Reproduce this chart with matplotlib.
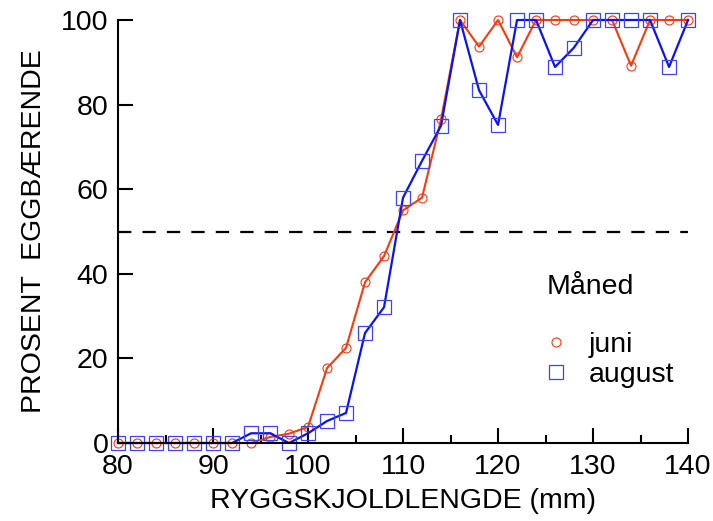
import matplotlib
matplotlib.use("Agg")
from matplotlib import pyplot as plt

plt.rcParams["font.family"] = ["Liberation Sans", "DejaVu Sans"]

length_mm = list(range(80, 141, 2))

pct_juni = [0, 0, 0, 0, 0, 0, 0, 0, 1.4, 2.2, 3.8, 17.7, 22.5, 38, 44.2, 55,
            58, 76.5, 100, 93.7, 100, 91.2, 100, 100, 100, 100, 100, 89.2,
            100, 100, 100]
pct_august = [0, 0, 0, 0, 0, 0, 0, 2.3, 2.3, 0, 2.3, 5.2, 7.1, 26, 32.1, 58,
              66.7, 75, 100, 83.4, 75.2, 100, 100, 88.9, 93.5, 100, 100, 100,
              100, 88.9, 100]

red = "#fa3a0c"
blue = "#0a14f0"
fs = 20.5


def main():
    fig = plt.figure(figsize=(7.13, 5.21), dpi=100)
    ax = fig.add_axes([0.1655, 0.1497, 0.7995, 0.8119])

    ax.axhline(50, color="black", linewidth=1.6, dashes=(6, 5))

    ax.plot(length_mm, pct_juni, color=red, linewidth=1.5, marker="o",
            markersize=6.5, markerfacecolor="none", markeredgecolor=red,
            markeredgewidth=0.8, clip_on=False, label="juni")
    ax.plot(length_mm, pct_august, color=blue, linewidth=1.6, marker="s",
            markersize=9.5, markerfacecolor="none", markeredgecolor="#3a46f5",
            markeredgewidth=0.9, clip_on=False, label="august")

    ax.set_xlim(80, 140)
    ax.set_ylim(0, 100)
    ax.set_xticks(range(80, 141, 10))
    ax.set_xticks(range(85, 140, 10), minor=True)
    ax.set_yticks(range(0, 101, 20))

    for side in ["top", "right"]:
        ax.spines[side].set_visible(False)
    for side in ["left", "bottom"]:
        ax.spines[side].set_linewidth(1.5)

    ax.tick_params(which="major", direction="in", length=11, width=1.5,
                   labelsize=fs)
    ax.tick_params(axis="x", which="major", pad=8)
    ax.tick_params(axis="y", which="major", pad=7)
    ax.tick_params(which="minor", direction="in", length=6, width=1.5)

    ax.set_xlabel("RYGGSKJOLDLENGDE (mm)", fontsize=fs, labelpad=6)
    ax.set_ylabel("PROSENT  EGGBÆRENDE", fontsize=fs, labelpad=10)

    leg = ax.legend(loc="center left", bbox_to_anchor=(0.698, 0.196),
                    frameon=False, fontsize=fs, handlelength=1.0,
                    handletextpad=0.65, labelspacing=0.12, borderpad=0.4)
    for line in leg.get_lines():
        line.set_linestyle("none")
    ax.text(0.7526, 0.369, "Måned", transform=ax.transAxes, fontsize=fs,
            ha="left", va="center")

    fig.savefig("out.png", dpi=100)


if __name__ == "__main__":
    main()
